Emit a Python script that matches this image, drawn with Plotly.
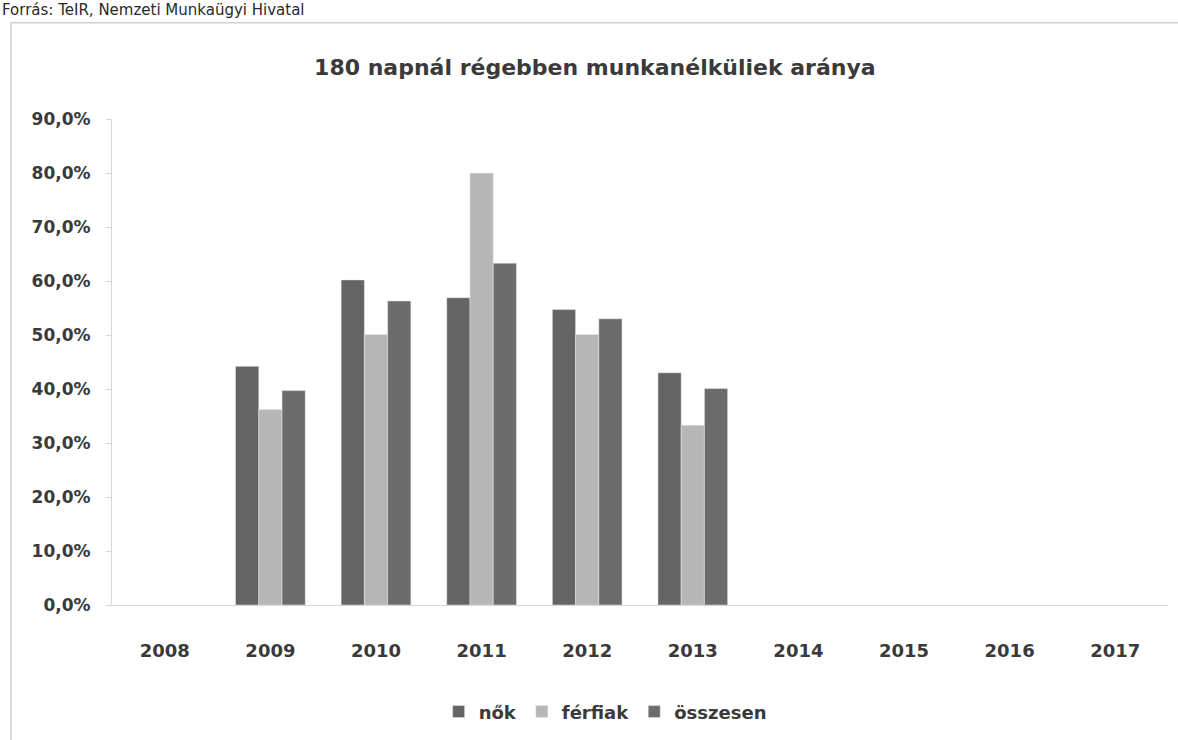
import plotly.graph_objects as go

years = ['2008', '2009', '2010', '2011', '2012', '2013', '2014', '2015', '2016', '2017']
nok = [None, 0.442, 0.602, 0.569, 0.547, 0.430, None, None, None, None]
ferfiak = [None, 0.362, 0.501, 0.800, 0.501, 0.333, None, None, None, None]
osszesen = [None, 0.397, 0.563, 0.633, 0.530, 0.401, None, None, None, None]

title = '180 napnál régebben munkanélküliek aránya'
source = 'Forrás: TeIR, Nemzeti Munkaügyi Hivatal'

font_name = 'DejaVu Sans'
txt = '#3a3a3a'

fig = go.Figure()
fig.add_trace(go.Bar(name='nők', x=years, y=nok, marker_color='#646464'))
fig.add_trace(go.Bar(name='férfiak', x=years, y=ferfiak, marker_color='#b6b6b6'))
fig.add_trace(go.Bar(name='összesen', x=years, y=osszesen, marker_color='#6c6c6c'))

fig.update_layout(
    width=1178, height=740,
    paper_bgcolor='white', plot_bgcolor='white',
    margin=dict(l=112, r=10, t=119, b=131),
    barmode='group', bargap=0.34, bargroupgap=0,
    separators=', ',
    font=dict(family=font_name, color=txt, size=17),
    title=dict(text='<b>' + title + '</b>', x=0.505, xanchor='center',
               y=0.909, yanchor='middle', font=dict(size=22, color=txt)),
    legend=dict(orientation='h', x=0.467, xanchor='center', y=-0.22, yanchor='middle',
                font=dict(size=18, color=txt, weight='bold'), itemwidth=30,
                traceorder='normal'),
    showlegend=True,
)

fig.update_xaxes(type='category', showline=True, linecolor='#d6d6d6', linewidth=1,
                 ticks='', showgrid=False, ticklabelstandoff=29,
                 tickfont=dict(size=18, color=txt, weight='bold'))
fig.update_yaxes(range=[0, 0.9], dtick=0.1, tickformat='.1%', showline=True,
                 linecolor='#d6d6d6', linewidth=1, ticks='outside', ticklen=5,
                 tickcolor='#d6d6d6', showgrid=False, zeroline=False,
                 ticklabelstandoff=12, tickfont=dict(size=17, color=txt, weight='bold'))

# chart border (scanned excel frame)
fig.add_shape(type='rect', xref='paper', yref='paper',
              x0=-0.0956, x1=1.011, y0=-0.32, y1=1.198,
              line=dict(color='#d0d0d0', width=1.5), fillcolor='rgba(0,0,0,0)')

# source line at the very top (cut in the scan)
fig.add_annotation(text=source, xref='paper', yref='paper', x=-0.106, xanchor='left',
                   y=1.225, yanchor='middle', showarrow=False,
                   font=dict(size=15, color='#2a2a2a', family=font_name))

# no body margin so the figure sits at the page corner
fig.write_html('out.html', config={'displayModeBar': False},
               post_script="document.body.style.margin='0';")
